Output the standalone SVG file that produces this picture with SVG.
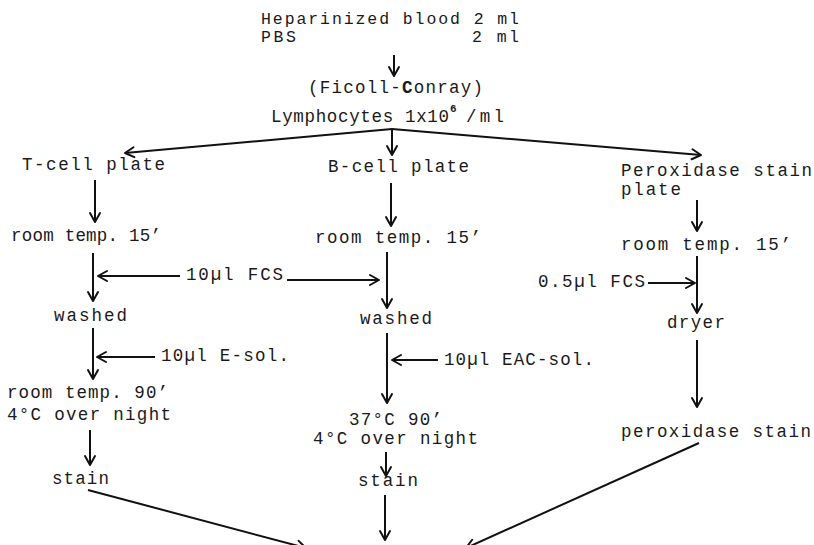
<svg xmlns="http://www.w3.org/2000/svg" width="814" height="545" viewBox="0 0 814 545">
<defs>
<style>
text{font-family:"Liberation Mono","DejaVu Sans Mono",monospace;font-size:17.5px;fill:#1a1a1a}
.top{font-size:16.5px}
.sup{font-size:11px;font-weight:bold}
.c line{stroke:#111;stroke-width:2;fill:none;marker-end:url(#ah)}
</style>
<marker id="ah" markerUnits="userSpaceOnUse" viewBox="-12 -7 14 14" refX="0" refY="0" markerWidth="14" markerHeight="14" orient="auto">
<path d="M-9,-5 L0,0 L-9,5" fill="none" stroke="#111" stroke-width="2" stroke-linecap="round" stroke-linejoin="round"/>
</marker>
</defs>
<rect width="814" height="545" fill="#fff"/>
<g id="start">
<text class="top" x="261" y="24" textLength="258" lengthAdjust="spacing">Heparinized blood 2 ml</text>
<text class="top" x="261" y="42" textLength="35" lengthAdjust="spacing">PBS</text>
<text class="top" x="472" y="42" textLength="47" lengthAdjust="spacing">2 ml</text>
</g>
<g id="ficoll">
<text x="308" y="93" textLength="175" lengthAdjust="spacing">(Ficoll-<tspan font-weight="bold">C</tspan>onray)</text>
</g>
<g id="lymphocytes">
<text x="271" y="122" textLength="178" lengthAdjust="spacing">Lymphocytes 1x10</text>
<text class="sup" x="450" y="112">6</text>
<text x="466" y="122" textLength="38" lengthAdjust="spacing">/ml</text>
</g>
<g id="t-col">
<text x="22" y="170" textLength="143" lengthAdjust="spacing">T-cell plate</text>
<text x="11" y="241" textLength="150" lengthAdjust="spacing">room temp. 15’</text>
<text x="54" y="321" textLength="73" lengthAdjust="spacing">washed</text>
<text x="7" y="398" textLength="161" lengthAdjust="spacing">room temp. 90’</text>
<text x="7" y="420" textLength="164" lengthAdjust="spacing">4°C over night</text>
<text x="52" y="484" textLength="57" lengthAdjust="spacing">stain</text>
</g>
<g id="b-col">
<text x="328" y="172" textLength="141" lengthAdjust="spacing">B-cell plate</text>
<text x="315" y="243" textLength="166" lengthAdjust="spacing">room temp. 15’</text>
<text x="360" y="324" textLength="72" lengthAdjust="spacing">washed</text>
<text x="349" y="425" textLength="93" lengthAdjust="spacing">37°C 90’</text>
<text x="313" y="444" textLength="165" lengthAdjust="spacing">4°C over night</text>
<text x="358" y="486" textLength="60" lengthAdjust="spacing">stain</text>
</g>
<g id="p-col">
<text x="621" y="176" textLength="191" lengthAdjust="spacing">Peroxidase stain</text>
<text x="621" y="195" textLength="60" lengthAdjust="spacing">plate</text>
<text x="621" y="250" textLength="170" lengthAdjust="spacing">room temp. 15’</text>
<text x="667" y="328" textLength="58" lengthAdjust="spacing">dryer</text>
<text x="621" y="437" textLength="190" lengthAdjust="spacing">peroxidase stain</text>
</g>
<g id="reagents">
<text x="186" y="280" textLength="97" lengthAdjust="spacing">10µl FCS</text>
<text x="538" y="287" textLength="107" lengthAdjust="spacing">0.5µl FCS</text>
<text x="161" y="361" textLength="128" lengthAdjust="spacing">10µl E-sol.</text>
<text x="444" y="365" textLength="150" lengthAdjust="spacing">10µl EAC-sol.</text>
</g>
<g id="connectors" class="c">
<line x1="394" y1="55" x2="394" y2="76"/>
<line x1="392" y1="129" x2="125" y2="153"/>
<line x1="392" y1="129" x2="701" y2="155"/>
<line x1="392" y1="129" x2="392" y2="155"/>
<line x1="95" y1="180" x2="95" y2="222"/>
<line x1="391" y1="183" x2="391" y2="226"/>
<line x1="697" y1="200" x2="697" y2="231"/>
<line x1="93" y1="253" x2="93" y2="301"/>
<line x1="387" y1="252" x2="387" y2="308"/>
<line x1="697" y1="256" x2="697" y2="313"/>
<line x1="180" y1="276" x2="98" y2="276"/>
<line x1="287" y1="280" x2="379" y2="280"/>
<line x1="648" y1="283" x2="695" y2="283"/>
<line x1="93" y1="328" x2="93" y2="379"/>
<line x1="387" y1="333" x2="387" y2="403"/>
<line x1="697" y1="340" x2="697" y2="407"/>
<line x1="155" y1="357" x2="97" y2="357"/>
<line x1="438" y1="360" x2="392" y2="360"/>
<line x1="90" y1="430" x2="90" y2="465"/>
<line x1="386" y1="452" x2="386" y2="476"/>
<line x1="385" y1="495" x2="385" y2="540"/>
<line x1="88" y1="490" x2="306" y2="548"/>
<line x1="699" y1="443" x2="466" y2="548"/>
</g>
</svg>
